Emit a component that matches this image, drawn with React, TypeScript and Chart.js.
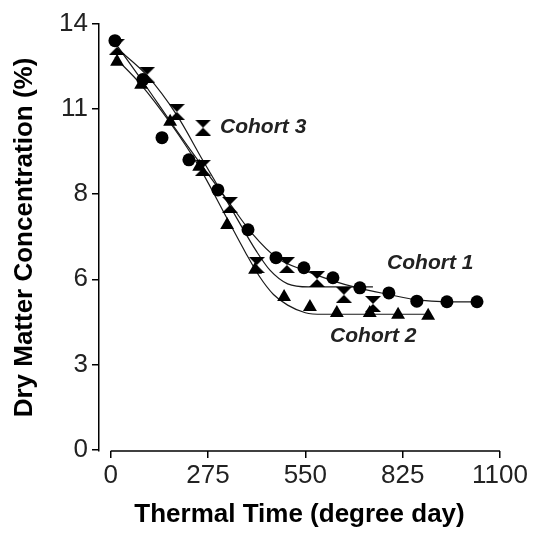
import React, { useEffect, useRef } from "react";
import { Chart, registerables } from "chart.js";

Chart.register(...registerables);

// ---- Data ----
const xTickValues = [0, 275, 550, 825, 1100];
const yTickValues = [0, 2.8, 5.6, 8.4, 11.2, 14];

// Cohort 1 (circles)
const cohort1X = [12, 91, 145, 221, 303, 388, 467, 546, 628, 704, 786, 865, 950, 1035];
const cohort1Y = [13.45, 12.17, 10.26, 9.53, 8.54, 7.23, 6.31, 5.98, 5.65, 5.32, 5.15, 4.88, 4.86, 4.86];
// Cohort 2 (triangles)
const cohort2X = [18, 86, 168, 250, 329, 408, 490, 563, 639, 732, 812, 897];
const cohort2Y = [12.76, 12.0, 10.78, 9.3, 7.39, 5.91, 5.02, 4.69, 4.49, 4.49, 4.43, 4.4];
// Cohort 3 (hourglass)
const cohort3X = [18, 103, 187, 261, 337, 413, 498, 583, 659, 741];
const cohort3Y = [13.25, 12.33, 11.11, 9.27, 8.05, 6.07, 6.07, 5.61, 5.09, 4.79];

// Fitted curves
const fit1X = [8, 91, 180, 260, 330, 400, 470, 546, 628, 704, 786, 865, 950, 1035];
const fit1Y = [13.45, 12.1, 10.6, 9.3, 8.2, 7.1, 6.3, 5.9, 5.55, 5.3, 5.1, 4.92, 4.86, 4.86];
const fit2X = [12, 86, 168, 250, 329, 380, 420, 460, 500, 550, 600, 900];
const fit2Y = [12.9, 12.0, 10.75, 9.3, 7.6, 6.5, 5.7, 5.1, 4.75, 4.5, 4.45, 4.45];
const fit3X = [18, 103, 187, 261, 337, 413, 450, 500, 560, 741];
const fit3Y = [13.2, 12.3, 11.0, 9.5, 8.0, 6.5, 5.9, 5.45, 5.35, 5.35];

const seriesLabels = ["Cohort 1", "Cohort 2", "Cohort 3"];

const toPts = (xs: number[], ys: number[]) => xs.map((x, i) => ({ x, y: ys[i] }));

function makeHourglass(size: number): HTMLCanvasElement {
  const c = document.createElement("canvas");
  c.width = size;
  c.height = size;
  const g = c.getContext("2d")!;
  g.fillStyle = "#000";
  g.beginPath();
  g.moveTo(0, 0);
  g.lineTo(size, 0);
  g.lineTo(size / 2, size / 2);
  g.closePath();
  g.fill();
  g.beginPath();
  g.moveTo(size / 2, size / 2);
  g.lineTo(size, size);
  g.lineTo(0, size);
  g.closePath();
  g.fill();
  return c;
}

export default function App() {
  const ref = useRef<HTMLCanvasElement | null>(null);

  useEffect(() => {
    if (!ref.current) return;
    const hourglass = makeHourglass(16);
    const labelFont = 'italic bold 21px "Liberation Sans", Arial, sans-serif';

    const annot = {
      id: "annot",
      afterDatasetsDraw(chart: any) {
        const ctx = chart.ctx;
        const xs = chart.scales.x;
        const ys = chart.scales.y;
        const bottom = chart.chartArea.bottom;
        ctx.save();
        // detached x-axis line
        ctx.strokeStyle = "#000";
        ctx.lineWidth = 1.5;
        ctx.beginPath();
        ctx.moveTo(xs.getPixelForValue(xTickValues[0]), bottom);
        ctx.lineTo(xs.getPixelForValue(xTickValues[xTickValues.length - 1]), bottom);
        ctx.stroke();
        // series labels
        ctx.fillStyle = "#222";
        ctx.font = labelFont;
        ctx.textBaseline = "middle";
        ctx.textAlign = "left";
        ctx.fillText(seriesLabels[0], xs.getPixelForValue(781), ys.getPixelForValue(6.14));
        ctx.fillText(seriesLabels[1], xs.getPixelForValue(620), ys.getPixelForValue(3.74));
        ctx.fillText(seriesLabels[2], xs.getPixelForValue(309), ys.getPixelForValue(10.59));
        const mx = xs.getPixelForValue(261);
        const my = ys.getPixelForValue(10.59);
        ctx.drawImage(hourglass, mx - 8, my - 8);
        ctx.restore();
      },
    };

    const lineStyle = {
      showLine: true,
      borderColor: "#1a1a1a",
      borderWidth: 1.2,
      pointRadius: 0,
      cubicInterpolationMode: "monotone" as const,
      order: 2,
    };

    const chart = new Chart(ref.current, {
      type: "scatter",
      data: {
        datasets: [
          { label: "fit1", data: toPts(fit1X, fit1Y), ...lineStyle },
          { label: "fit2", data: toPts(fit2X, fit2Y), ...lineStyle },
          { label: "fit3", data: toPts(fit3X, fit3Y), ...lineStyle },
          {
            label: seriesLabels[0],
            data: toPts(cohort1X, cohort1Y),
            pointStyle: "circle",
            pointRadius: 6.5,
            backgroundColor: "#000",
            borderColor: "#000",
            borderWidth: 0,
            showLine: false,
            order: 0,
          },
          {
            label: seriesLabels[1],
            data: toPts(cohort2X, cohort2Y),
            pointStyle: "triangle",
            pointRadius: 8,
            backgroundColor: "#000",
            borderColor: "#000",
            borderWidth: 0,
            showLine: false,
            order: 0,
          },
          {
            label: seriesLabels[2],
            data: toPts(cohort3X, cohort3Y),
            pointStyle: hourglass,
            pointRadius: 8,
            backgroundColor: "#000",
            borderColor: "#000",
            showLine: false,
            order: 0,
          },
        ],
      },
      options: {
        animation: false,
        responsive: false,
        devicePixelRatio: 1,
        layout: { padding: { top: 24, right: 36, left: 0, bottom: 0 } },
        plugins: {
          legend: { display: false },
          tooltip: { enabled: false },
        },
        scales: {
          x: {
            type: "linear",
            min: -33,
            max: 1100,
            afterBuildTicks: (s: any) => {
              s.ticks = xTickValues.map((v) => ({ value: v }));
            },
            afterFit: (s: any) => {
              s.height = 84;
            },
            ticks: {
              autoSkip: false,
              maxRotation: 0,
              padding: 2,
              color: "#222",
              callback: (v: any) => String(v),
              font: { family: '"Liberation Sans", Arial, sans-serif', size: 26 },
            },
            grid: {
              display: true,
              drawOnChartArea: false,
              drawTicks: true,
              tickLength: 7,
              color: "#000",
              lineWidth: 1.5,
            },
            border: { display: false },
            title: {
              display: true,
              text: "Thermal Time (degree day)",
              color: "#000",
              padding: { top: 0, bottom: 5 },
              font: { family: '"Liberation Sans", Arial, sans-serif', size: 26, weight: "bold" },
            },
          },
          y: {
            type: "linear",
            min: -0.05,
            max: 14,
            afterBuildTicks: (s: any) => {
              s.ticks = yTickValues.map((v) => ({ value: v }));
            },
            afterFit: (s: any) => {
              s.width = 99;
            },
            ticks: {
              autoSkip: false,
              padding: 4,
              color: "#222",
              callback: (v: any) => String(Math.round(Number(v))),
              font: { family: '"Liberation Sans", Arial, sans-serif', size: 26 },
            },
            grid: {
              display: true,
              drawOnChartArea: false,
              drawTicks: true,
              tickLength: 7,
              color: "#000",
              lineWidth: 1.5,
            },
            border: { display: true, color: "#000", width: 1.5 },
            title: {
              display: true,
              text: "Dry Matter Concentration (%)",
              color: "#000",
              padding: { top: 9, bottom: 0 },
              font: { family: '"Liberation Sans", Arial, sans-serif', size: 26, weight: "bold" },
            },
          },
        },
      },
      plugins: [annot],
    });
    return () => chart.destroy();
  }, []);

  return (
    <div style={{ position: "fixed", left: 0, top: 0, width: 536, height: 535, background: "#fff" }}>
      <canvas ref={ref} width={536} height={535} style={{ width: 536, height: 535, display: "block" }} />
    </div>
  );
}
